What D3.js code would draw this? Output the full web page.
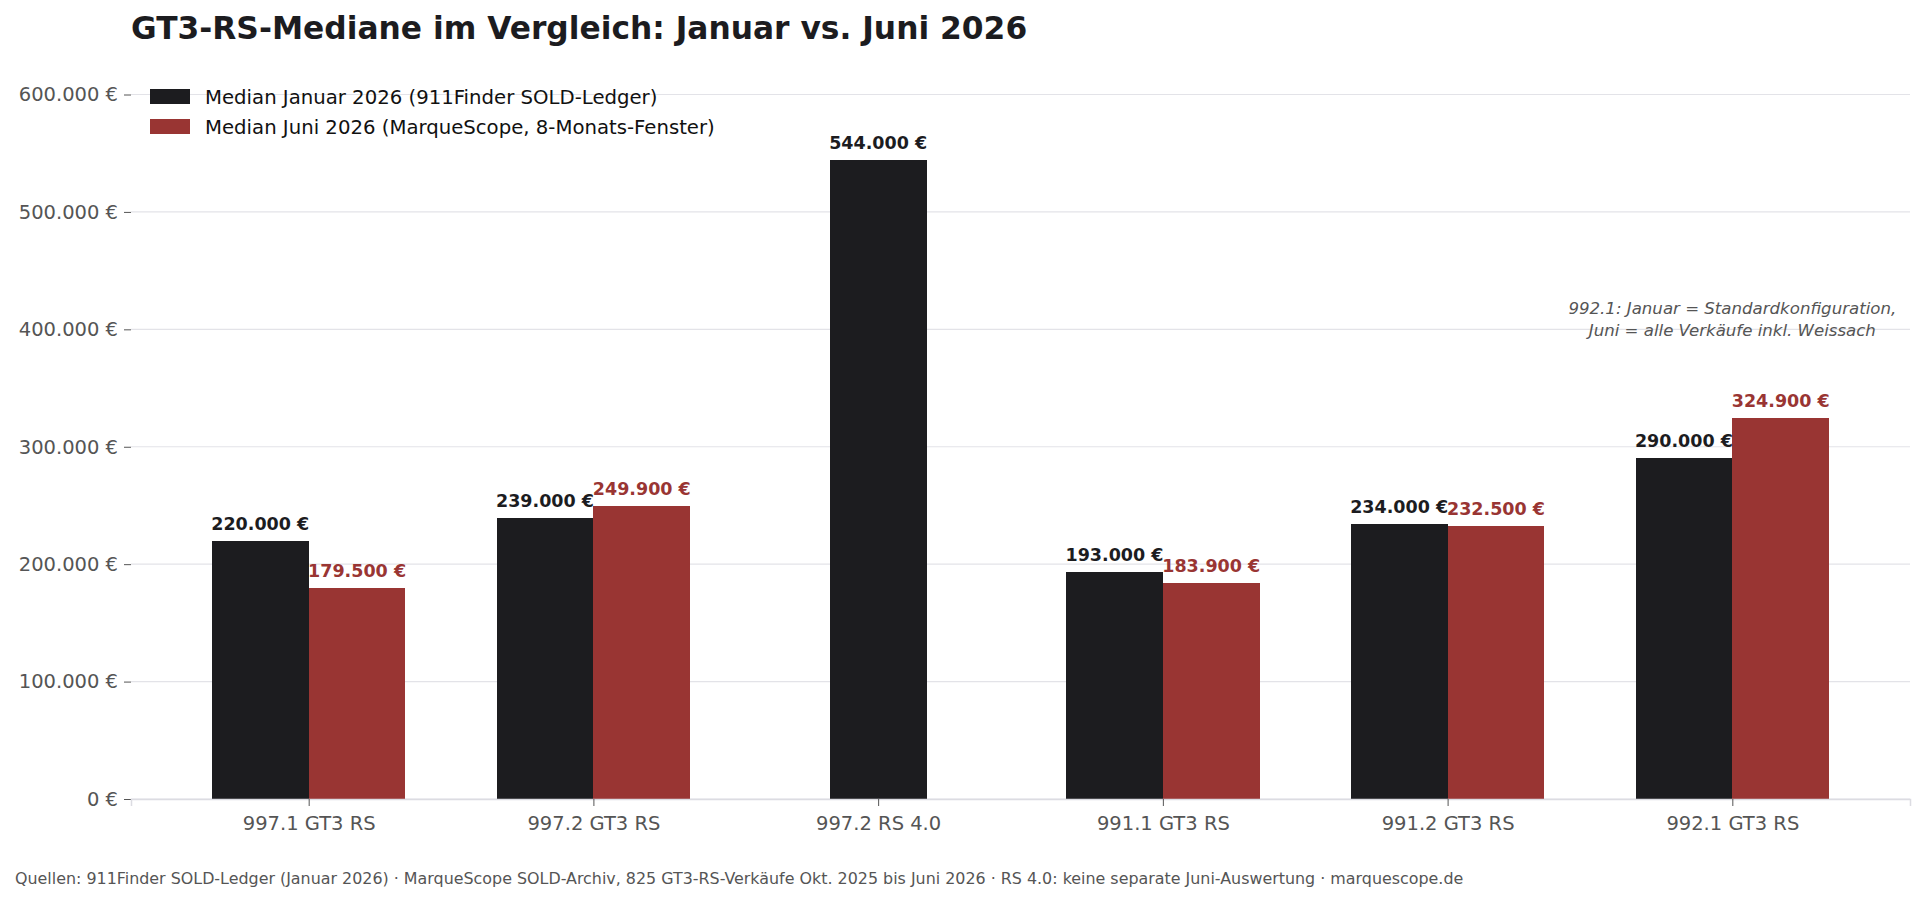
<!DOCTYPE html>
<html>
<head>
<meta charset="utf-8">
<script src="https://cdn.jsdelivr.net/npm/d3@7"></script>
<style>
  body { margin: 0; background: #fff; }
  svg { display: block; font-family: "DejaVu Sans", sans-serif; }
</style>
</head>
<body>
<div id="chart"></div>
<script>
// data
const models = ["997.1 GT3 RS", "997.2 GT3 RS", "997.2 RS 4.0", "991.1 GT3 RS", "991.2 GT3 RS", "992.1 GT3 RS"];
const januar = [220000, 239000, 544000, 193000, 234000, 290000];
const juni = [179500, 249900, null, 183900, 232500, 324900];
const yTicks = [0, 100000, 200000, 300000, 400000, 500000, 600000];
const seriesNames = ["Median Januar 2026 (911Finder SOLD-Ledger)", "Median Juni 2026 (MarqueScope, 8-Monats-Fenster)"];

const width = 1924;
const height = 901;
const colJan = "#1c1c1f";
const colJun = "#993533";
const barW = 0.34;

const svg = d3.select("#chart")
  .append("svg")
  .attr("width", width)
  .attr("height", height);

const x = d3.scaleLinear().domain([-0.624, 5.624]).range([131, 1910]);
const y = d3.scaleLinear().domain([0, 600000]).range([799, 94.5]);

const fmt = v => d3.format(",")(v).replace(/,/g, ".") + " €";

// grid
svg.append("g")
  .selectAll("line")
  .data(yTicks)
  .join("line")
  .attr("x1", x.range()[0])
  .attr("x2", x.range()[1])
  .attr("y1", d => y(d))
  .attr("y2", d => y(d))
  .attr("stroke", "#e3e3e8")
  .attr("stroke-width", 1.2);

// y axis
const yAxis = d3.axisLeft(y).tickValues(yTicks).tickFormat(fmt).tickSize(7).tickPadding(6);
const gy = svg.append("g")
  .attr("transform", `translate(${x.range()[0]},0)`)
  .call(yAxis);
gy.select(".domain").remove();
gy.selectAll(".tick line").attr("stroke", "#555");
gy.selectAll(".tick text")
  .attr("fill", "#555")
  .style("font-size", "19.5px")
  .style("font-family", "DejaVu Sans");

// bars
const pairs = models.map((m, i) => ({ i, jan: januar[i], jun: juni[i] }));
const barG = svg.append("g").attr("shape-rendering", "crispEdges");
const labG = svg.append("g");

pairs.forEach(d => {
  const single = d.jun == null;
  const janX = single ? d.i : d.i - barW / 2;
  barG.append("rect")
    .attr("x", x(janX - barW / 2))
    .attr("width", x(barW) - x(0))
    .attr("y", y(d.jan))
    .attr("height", y(0) - y(d.jan))
    .attr("fill", colJan);
  labG.append("text")
    .attr("x", x(janX))
    .attr("y", y(d.jan) - 11)
    .attr("text-anchor", "middle")
    .attr("fill", colJan)
    .style("font-size", "17.5px")
    .style("font-weight", "bold")
    .text(fmt(d.jan));
  if (!single) {
    const junX = d.i + barW / 2;
    barG.append("rect")
      .attr("x", x(junX - barW / 2))
      .attr("width", x(barW) - x(0))
      .attr("y", y(d.jun))
      .attr("height", y(0) - y(d.jun))
      .attr("fill", colJun);
    labG.append("text")
      .attr("x", x(junX))
      .attr("y", y(d.jun) - 11)
      .attr("text-anchor", "middle")
      .attr("fill", colJun)
      .style("font-size", "17.5px")
      .style("font-weight", "bold")
      .text(fmt(d.jun));
  }
});

// x axis
const xAxis = d3.axisBottom(x).tickValues(d3.range(models.length)).tickFormat(i => models[i]).tickSize(7).tickPadding(10);
const gx = svg.append("g")
  .attr("transform", `translate(0,${y(0)})`)
  .call(xAxis);
gx.select(".domain").attr("stroke", "#dcdce2").attr("stroke-width", 1.5);
gx.selectAll(".tick line").attr("stroke", "#555");
gx.selectAll(".tick text")
  .attr("fill", "#555")
  .style("font-size", "19.5px")
  .style("font-family", "DejaVu Sans");

// title
svg.append("text")
  .attr("x", 131)
  .attr("y", 39)
  .attr("fill", "#1c1c1f")
  .style("font-size", "31.3px")
  .style("font-weight", "bold")
  .text("GT3-RS-Mediane im Vergleich: Januar vs. Juni 2026");

// legend
const legend = svg.append("g").attr("transform", "translate(150,89)");
[colJan, colJun].forEach((c, k) => {
  legend.append("rect")
    .attr("x", 0)
    .attr("y", k * 30)
    .attr("width", 40)
    .attr("height", 15)
    .attr("fill", c);
  legend.append("text")
    .attr("x", 55)
    .attr("y", k * 30 + 8.5)
    .attr("dy", "0.35em")
    .attr("fill", "#111")
    .style("font-size", "19.7px")
    .text(seriesNames[k]);
});

// annotation
const note = svg.append("text")
  .attr("x", x(5))
  .attr("text-anchor", "middle")
  .attr("fill", "#555")
  .style("font-size", "16.6px")
  .style("font-style", "italic");
note.append("tspan").attr("x", x(5)).attr("y", 314).text("992.1: Januar = Standardkonfiguration,");
note.append("tspan").attr("x", x(5)).attr("y", 336).text("Juni = alle Verkäufe inkl. Weissach");

// footer
svg.append("text")
  .attr("x", 15)
  .attr("y", 884)
  .attr("fill", "#555")
  .style("font-size", "15.9px")
  .text("Quellen: 911Finder SOLD-Ledger (Januar 2026) · MarqueScope SOLD-Archiv, 825 GT3-RS-Verkäufe Okt. 2025 bis Juni 2026 · RS 4.0: keine separate Juni-Auswertung · marquescope.de");
</script>
</body>
</html>
